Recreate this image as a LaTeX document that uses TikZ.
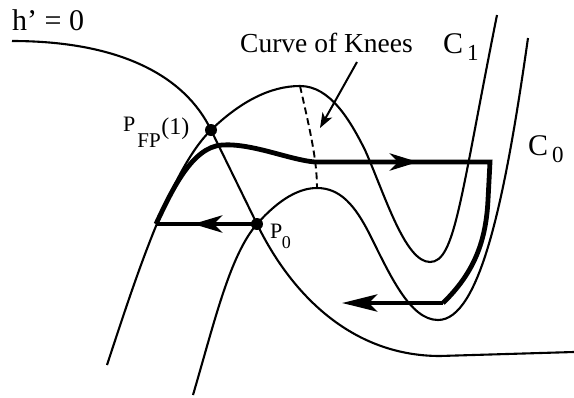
\documentclass[tikz,border=0pt]{standalone}
\usepackage{fontspec}
\setmainfont{Liberation Serif}
\usetikzlibrary{arrows.meta}
\newcommand\fsz[1]{\fontsize{#1}{#1}\selectfont}
\tikzset{
  thin curve/.style={line width=2.1pt},
  thick path/.style={line width=4.8pt},
  knee line/.style={line width=1.9pt, dash pattern=on 7pt off 4pt},
  lbl/.style={inner sep=0pt, anchor=base west},
  big tip/.style={-{Stealth[length=#1, width=17pt, inset=8pt]}},
}
\begin{document}
\begin{tikzpicture}[x=1pt,y=-1pt]
\useasboundingbox (0,0) rectangle (574,397);
% key points
\coordinate (pfp) at (211,130);
\coordinate (p0) at (257,224);
\coordinate (c1peak) at (300,86);
\coordinate (c0peak) at (317,188);
\coordinate (knee) at (315,162);
\coordinate (corner) at (490,162);
\coordinate (rtip) at (418,162);
\coordinate (lstart) at (156,224);
\coordinate (ltip) at (193,224);
\coordinate (bcorner) at (443,303);
\coordinate (btip) at (342,303);
% h' = 0 nullcline
\draw[thin curve] (12,41) .. controls (120,41) and (185,76) .. (pfp)
  -- (p0) .. controls (290,292) and (350,356) .. (440,356) -- (574,352);
% C1
\draw[thin curve] (107,365) .. controls (135,280) and (170,170) .. (pfp)
  .. controls (240,102) and (270,86) .. (c1peak)
  .. controls (330,86) and (350,120) .. (365,150)
  .. controls (385,195) and (405,262) .. (430,262)
  .. controls (455,262) and (460,200) .. (497,15);
% C0
\draw[thin curve] (193,395) .. controls (215,320) and (230,255) .. (p0)
  .. controls (280,198) and (300,188) .. (c0peak)
  .. controls (340,188) and (355,205) .. (370,235)
  .. controls (390,275) and (410,320) .. (438,320)
  .. controls (480,320) and (505,200) .. (528,38);
% curve of knees
\draw[knee line] (c1peak) .. controls (310,130) and (317,160) .. (c0peak);
% thick trajectory
\draw[thick path] (lstart) .. controls (172,190) and (192,147) .. (222,145)
  .. controls (252,143) and (290,160) .. (knee) -- (corner) -- (488,200)
  .. controls (486,240) and (475,272) .. (bcorner);
\draw[thick path, big tip=28pt] (knee) -- (rtip);
\draw[thick path] (p0) -- (lstart);
\draw[thick path, big tip=29pt] (p0) -- (ltip);
\draw[thick path, big tip=35pt] (bcorner) -- (btip);
% dots
\fill (pfp) circle (6);
\fill (p0) circle (6);
% labels
\node[lbl, font=\fsz{30}] (hlab) at (12,30) {h’ = 0};
\node[lbl, font=\fsz{27.5}] (knees) at (240,52) {Curve of Knees};
\coordinate (kstart) at (357,62);
\coordinate (kend) at (320,128);
\draw[line width=2pt, -{Stealth[length=15pt,width=11pt,inset=4pt]}] (kstart) -- (kend);
\node[lbl, font=\fsz{30}] (c1lab) at (443,53) {C\hspace{4pt}\raisebox{-7pt}{\fsz{23}1}};
\node[lbl, font=\fsz{30}] (c0lab) at (528,155) {C\hspace{4pt}\raisebox{-7pt}{\fsz{23}0}};
\node[lbl, font=\fsz{22}] (pfplab) at (123,131) {P\hspace{2pt}\raisebox{-16pt}{\fsz{21}FP}\hspace{0.5pt}\raisebox{-3pt}{\fsz{24}(1)}};
\node[lbl, font=\fsz{22}] (p0lab) at (270,238) {P\hspace{-0.5pt}\raisebox{-10pt}{\fsz{18}0}};
\end{tikzpicture}
\end{document}
